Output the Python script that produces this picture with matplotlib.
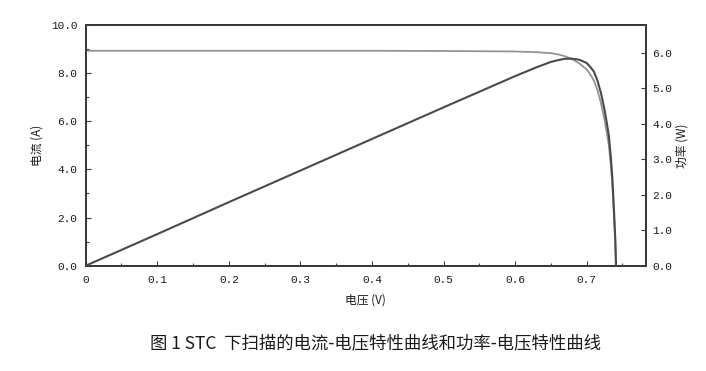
import matplotlib
matplotlib.use('Agg')
import matplotlib.pyplot as plt
from matplotlib.ticker import MultipleLocator, FormatStrFormatter, FixedLocator, FixedFormatter

# I-V and P-V under STC
volt = [0.0, 0.1, 0.2, 0.3, 0.4, 0.5, 0.55, 0.6, 0.63, 0.65, 0.66, 0.67, 0.68,
        0.69, 0.70, 0.705, 0.71, 0.715, 0.72, 0.725, 0.728, 0.731, 0.734,
        0.736, 0.738, 0.740, 0.741]
current = [8.93, 8.93, 8.93, 8.93, 8.93, 8.92, 8.91, 8.90, 8.87, 8.83, 8.78, 8.70, 8.58,
           8.40, 8.15, 7.95, 7.70, 7.30, 6.75, 6.05, 5.55, 5.00, 4.10,
           3.30, 2.20, 1.00, 0.0]
power = [0.0, 0.89, 1.79, 2.68, 3.57, 4.46, 4.90, 5.34, 5.59, 5.74, 5.79, 5.83, 5.83,
         5.80, 5.71, 5.60, 5.47, 5.22, 4.86, 4.39, 4.04, 3.66, 3.01,
         2.43, 1.62, 0.74, 0.0]

x_ticks = [0, 0.1, 0.2, 0.3, 0.4, 0.5, 0.6, 0.7]
x_labels = ['0', '0.1', '0.2', '0.3', '0.4', '0.5', '0.6', '0.7']

cjk = ['Noto Sans CJK SC', 'DejaVu Sans']
mono = 'Liberation Mono'
spine_col = '#3a3a3a'
text_col = '#1a1a1a'

fig = plt.figure(figsize=(7.06, 3.71), dpi=100)
ax = fig.add_axes([0.1214, 0.2838, 0.7932, 0.6488])
ax2 = ax.twinx()

ax.plot(volt, current, color='#939393', lw=1.3, zorder=3)
ax2.plot(volt, power, color='#4a4a4a', lw=1.5, zorder=3)

ax.set_xlim(0, 0.7825)
ax.set_ylim(0, 10)
ax2.set_ylim(0, 6.78)

ax.xaxis.set_major_locator(FixedLocator(x_ticks))
ax.xaxis.set_major_formatter(FixedFormatter(x_labels))
ax.xaxis.set_minor_locator(MultipleLocator(0.05))
ax.yaxis.set_major_locator(MultipleLocator(2))
ax.yaxis.set_minor_locator(MultipleLocator(1))
ax.yaxis.set_major_formatter(FormatStrFormatter('%.1f'))
ax2.yaxis.set_major_locator(MultipleLocator(1))
ax2.yaxis.set_major_formatter(FormatStrFormatter('%.1f'))

for a in (ax, ax2):
    for s in a.spines.values():
        s.set_color(spine_col)
        s.set_linewidth(1.4)
    a.tick_params(which='major', direction='in', length=3.5, width=0.8, color=spine_col,
                  labelsize=8, labelcolor=text_col)
    a.tick_params(which='minor', direction='in', length=2, width=0.8, color=spine_col)
    for lab in a.get_xticklabels() + a.get_yticklabels():
        lab.set_family(mono)

ax.tick_params(axis='y', pad=6)
ax.tick_params(axis='x', pad=7)
ax2.tick_params(axis='y', pad=4.5)

ax.set_xlabel('电压 (V)', family=cjk, fontsize=8.5, color=text_col)
ax.xaxis.set_label_coords(0.5, -0.115)
ax.set_ylabel('电流 (A)', family=cjk, fontsize=8.5, color=text_col)
ax.yaxis.set_label_coords(-0.075, 0.5)
ax2.set_ylabel('功率 (W)', family=cjk, fontsize=8.5, color=text_col, rotation=90)
ax2.yaxis.set_label_coords(1.054, 0.5)

fig.text(150 / 706, 1 - 343 / 371, '图 1 STC  下扫描的电流-电压特性曲线和功率-电压特性曲线',
         family=cjk, fontsize=12.5, color=text_col, ha='left', va='center')

fig.savefig('out.png', dpi=100)
